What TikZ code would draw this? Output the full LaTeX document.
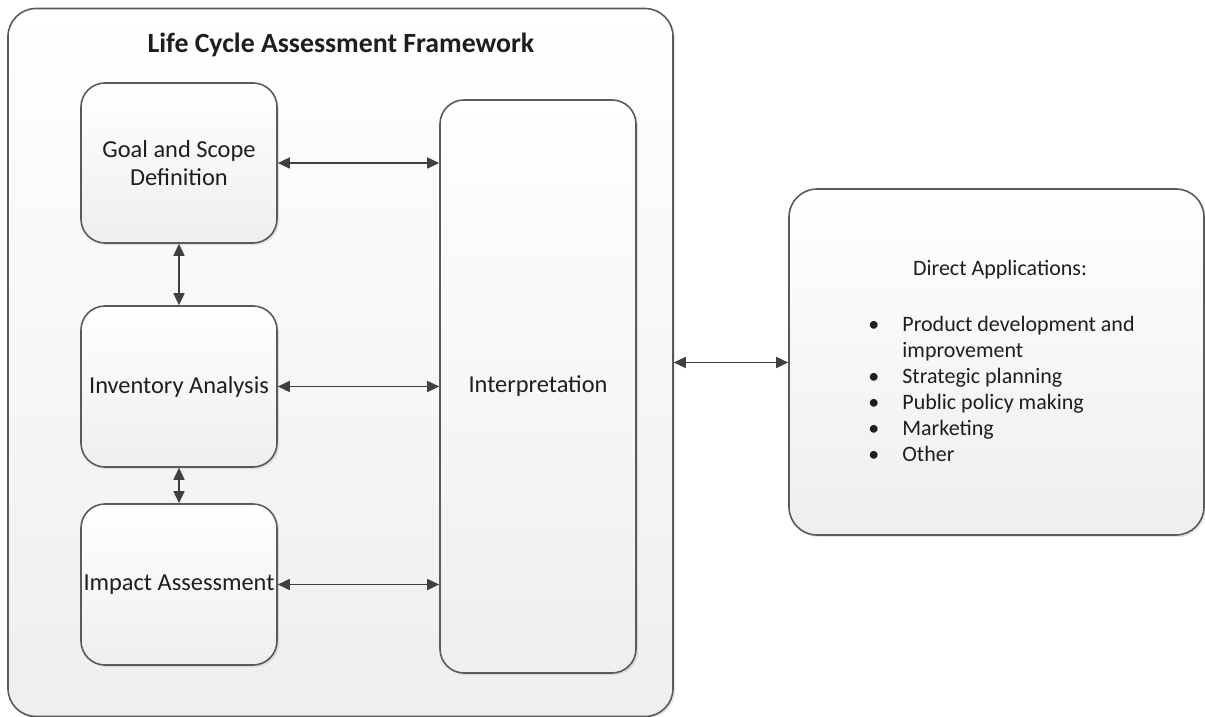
\documentclass[tikz,border=0pt]{standalone}
\usepackage{fontspec}
\setmainfont{Carlito}
\usetikzlibrary{arrows.meta,shadows}
\definecolor{edgegray}{HTML}{5A5A5A}
\definecolor{arrowgray}{HTML}{404040}
\definecolor{textgray}{HTML}{1E1E1E}
\begin{document}
\begin{tikzpicture}[x=0.5pt,y=-0.5pt,
  box/.style={rectangle,draw=edgegray,line width=0.8pt,rounded corners=12pt,
    top color=white,bottom color=gray!13,
    drop shadow={opacity=0.2,shadow xshift=1pt,shadow yshift=-1pt},
    align=center,inner sep=0pt,text=textgray,font=\fontsize{12.2}{14}\selectfont},
  link/.style={arrowgray,line width=0.8pt,
    {Triangle[length=6pt,width=5.5pt]}-{Triangle[length=6pt,width=5.5pt]}}]
\useasboundingbox (0,0) rectangle (1205,717);
% framework and the boxes inside it
\node[box,minimum width=332.5pt,minimum height=354pt,rounded corners=14pt] (lca) at (340.5,362.5) {};
\node[text=textgray,font=\bfseries\fontsize{13.9}{16}\selectfont] (title) at (341,45) {Life Cycle Assessment Framework};
\node[box,minimum width=98pt,minimum height=80pt] (goal) at (179,163) {Goal and Scope\\Definition};
\node[box,minimum width=98pt,minimum height=80.5pt] (inv) at (179,386.5) {Inventory Analysis};
\node[box,minimum width=98pt,minimum height=80.5pt] (imp) at (179,584.5) {Impact Assessment};
\node[box,minimum width=98pt,minimum height=286.5pt] (interp) at (538,386.5) {Interpretation};
% applications
\node[box,minimum width=207.5pt,minimum height=173pt,rounded corners=14pt] (apps) at (996.5,362) {};
\node[text=textgray,font=\fontsize{11}{13}\selectfont] (head) at (1000,270) {Direct Applications:};
\node[anchor=north west,inner sep=0pt,text=textgray,font=\fontsize{11}{13}\selectfont] (list) at (868,313)
  {\begin{tabular}{@{}l@{}l@{}}
    \makebox[17pt][l]{\textbullet} & Product development and\\
     & improvement\\
    \textbullet & Strategic planning\\
    \textbullet & Public policy making\\
    \textbullet & Marketing\\
    \textbullet & Other
  \end{tabular}};
% connectors
\draw[link] (goal.east) -- (goal.east -| interp.west);
\draw[link] (inv.east) -- (inv.east -| interp.west);
\draw[link] (imp.east) -- (imp.east -| interp.west);
\draw[link] (goal.south) -- (inv.north);
\draw[link] (inv.south) -- (imp.north);
\draw[link] (lca.east) -- (lca.east -| apps.west);
\end{tikzpicture}
\end{document}
